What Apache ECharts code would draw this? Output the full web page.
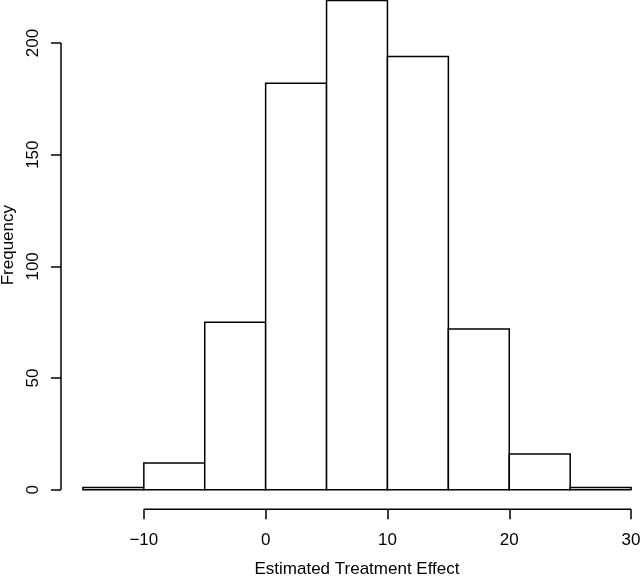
<!DOCTYPE html>
<html>
<head>
<meta charset="utf-8">
<script src="https://cdn.jsdelivr.net/npm/echarts@6/dist/echarts.min.js"></script>
<style>html,body{margin:0;padding:0;background:#fff}#c{width:640px;height:576px}</style>
</head>
<body>
<div id="c"></div>
<script>
// Histogram bins (estimated treatment effect) and frequencies
var binStarts = [-15, -10, -5, 0, 5, 10, 15, 20, 25];
var binWidth = 5;
var counts = [1, 12, 75, 182, 219, 194, 72, 16, 1];
var xTicks = [-10, 0, 10, 20, 30];
var yTicks = [0, 50, 100, 150, 200];
var xTitle = 'Estimated Treatment Effect';
var yTitle = 'Frequency';

// R-style 4% axis padding
var xMin = -15, xMax = 30, yMaxData = 219;
var xPad = (xMax - xMin) * 0.04, yPad = yMaxData * 0.04;

var barData = binStarts.map(function (s, i) { return [s, s + binWidth, counts[i]]; });
var font = 'Liberation Sans, Arial, Helvetica, sans-serif';

var chart = echarts.init(document.getElementById('c'), null, {renderer: 'canvas'});
chart.setOption({
  animation: false,
  backgroundColor: '#fff',
  grid: {left: 61, right: -13, top: -19, bottom: 66.7, containLabel: false, outerBoundsMode: 'none'},
  xAxis: {
    type: 'value', min: xMin - xPad, max: xMax + xPad,
    splitLine: {show: false},
    axisLine: {show: false, onZero: false},
    axisTick: {show: true, customValues: xTicks, length: 10, lineStyle: {color: '#000', width: 1.5}},
    axisLabel: {show: true, customValues: xTicks, margin: 23, color: '#000', fontSize: 17, fontFamily: font,
      formatter: function (v) { return String(v).replace('-', '\u2212'); }},
    name: xTitle, nameLocation: 'middle', nameGap: 52,
    nameTextStyle: {color: '#000', fontSize: 17, fontFamily: font}
  },
  yAxis: {
    type: 'value', min: -yPad, max: yMaxData + yPad,
    splitLine: {show: false},
    axisLine: {show: false, onZero: false},
    axisTick: {show: true, customValues: yTicks, length: 10, lineStyle: {color: '#000', width: 1.5}},
    axisLabel: {show: true, customValues: yTicks, margin: 19, rotate: 90, color: '#000', fontSize: 17, fontFamily: font},
    name: yTitle, nameLocation: 'middle', nameGap: 43, nameRotate: 90,
    nameTextStyle: {color: '#000', fontSize: 17, fontFamily: font}
  },
  series: [
    {
      type: 'custom',
      data: barData,
      clip: false,
      renderItem: function (params, api) {
        var p0 = api.coord([api.value(0), api.value(2)]);
        var p1 = api.coord([api.value(1), 0]);
        return {
          type: 'rect',
          shape: {x: p0[0], y: p0[1], width: p1[0] - p0[0], height: p1[1] - p0[1]},
          style: {fill: '#fff', stroke: '#000', lineWidth: 1.5}
        };
      }
    },
    {
      // axis lines spanning the tick range (R style)
      type: 'custom',
      data: [[0]],
      clip: false,
      silent: true,
      renderItem: function (params, api) {
        var xa = api.coord([xTicks[0], -yPad]);
        var xb = api.coord([xTicks[xTicks.length - 1], -yPad]);
        var ya = api.coord([xMin - xPad, yTicks[0]]);
        var yb = api.coord([xMin - xPad, yTicks[yTicks.length - 1]]);
        return {
          type: 'group',
          children: [
            {type: 'line', shape: {x1: xa[0], y1: xa[1], x2: xb[0], y2: xb[1]}, style: {stroke: '#000', lineWidth: 1.5}},
            {type: 'line', shape: {x1: ya[0], y1: ya[1], x2: yb[0], y2: yb[1]}, style: {stroke: '#000', lineWidth: 1.5}}
          ]
        };
      }
    }
  ]
});
</script>
</body>
</html>
